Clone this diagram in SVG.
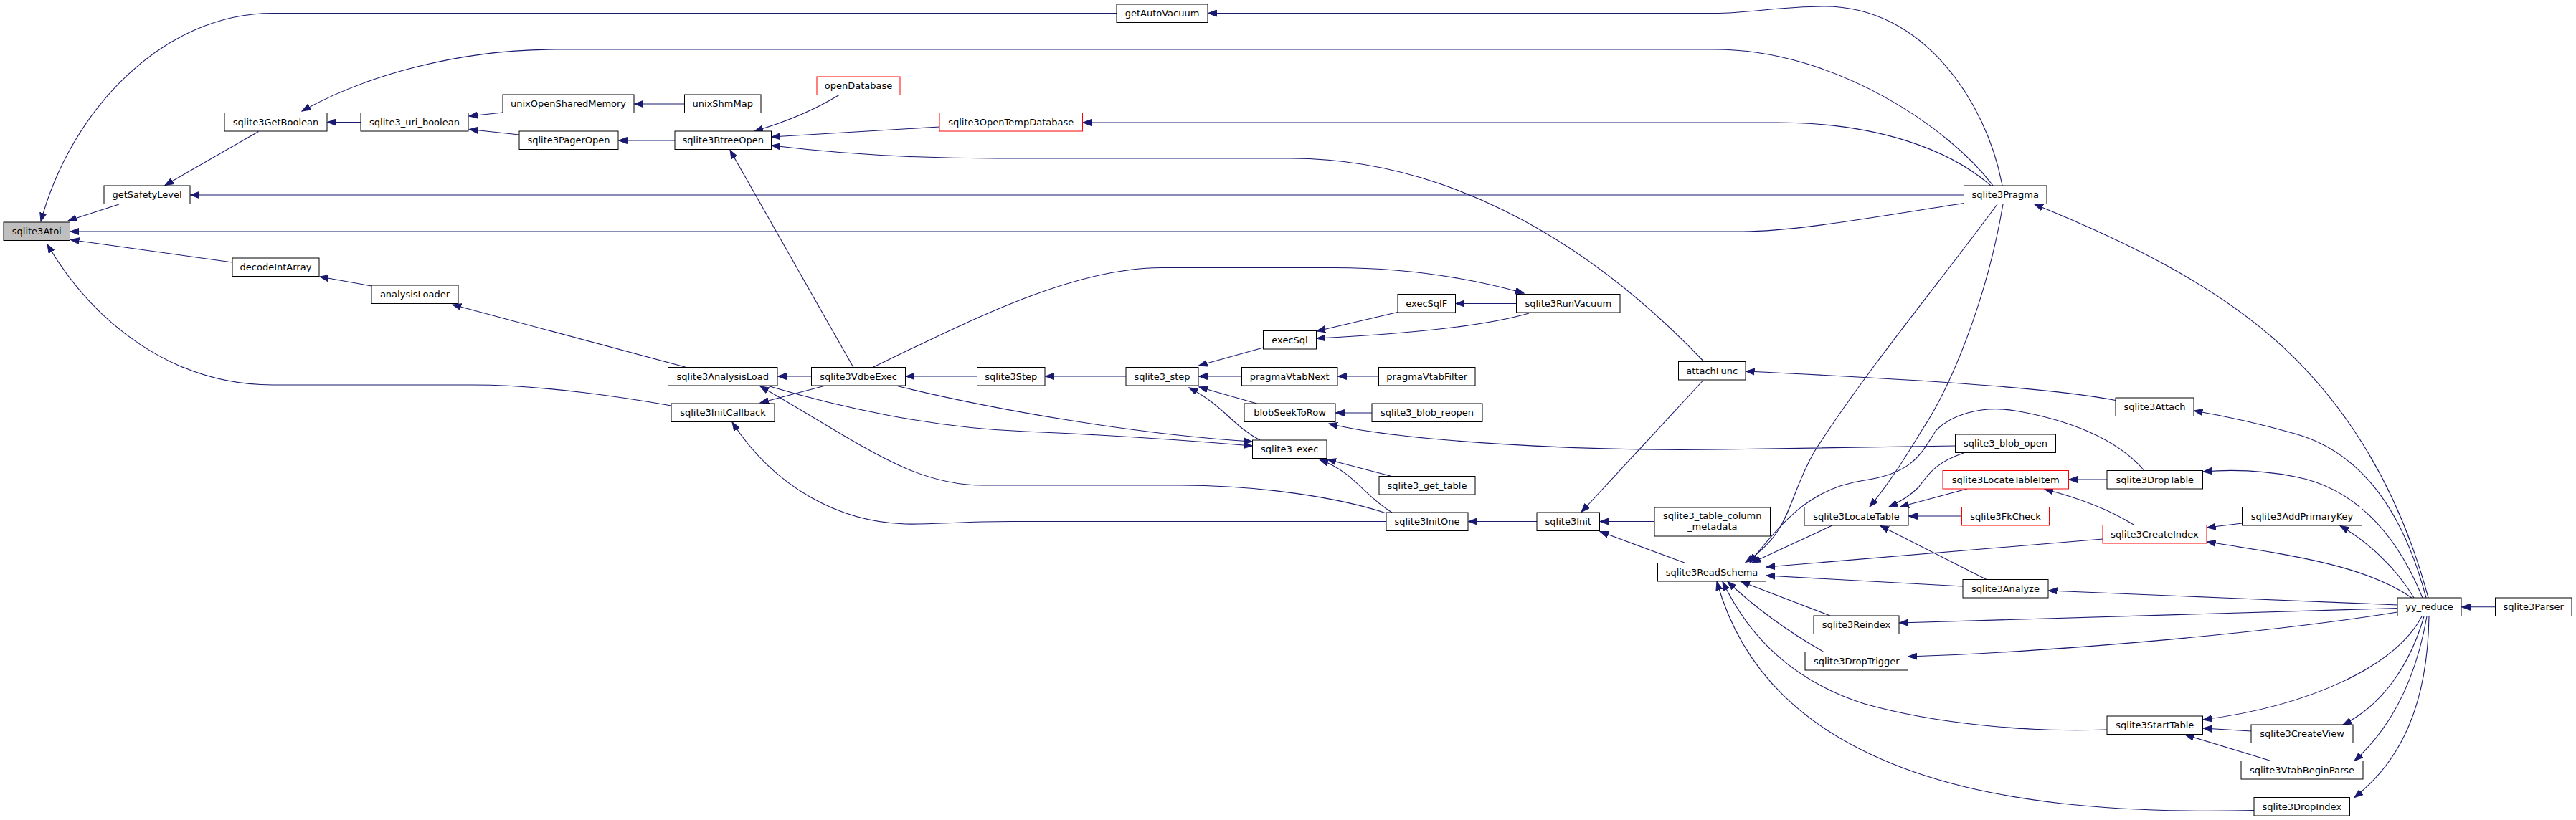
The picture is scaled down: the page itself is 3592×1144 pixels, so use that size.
<svg xmlns="http://www.w3.org/2000/svg" width="3592" height="1144" viewBox="0 0 3592 1144">
<style>
.n rect{fill:#fff;stroke:#000;stroke-width:1}
.n.r rect{stroke:#ff0000}
.n.g rect{fill:#bfbfbf}
text{font-family:"DejaVu Sans","Liberation Sans",sans-serif;font-size:13px;text-anchor:middle;fill:#000}
.e path{fill:none;stroke:#191970;stroke-width:1.1;marker-end:url(#a)}
</style>
<defs>
<marker id="a" markerUnits="userSpaceOnUse" markerWidth="13" markerHeight="10" refX="12" refY="5" orient="auto">
<path d="M0,0.5 L12,5 L0,9.5 z" fill="#191970" stroke="#191970" stroke-width="1"/>
</marker>
</defs>
<rect width="3592" height="1144" fill="#fff"/>
<g class="e" id="edges">
<path d="M1557,18.5 L380,18.5 C230,18.5 100,150 57,309"/>
<path d="M2792,259 C2770,140 2680,9 2545,9 C2480,9 2440,18.5 2391,18.5 L1684.5,18.5"/>
<path d="M166,285 L95,308"/>
<path d="M2738.5,283.5 C2600,305 2500,323 2430,323 L98,323"/>
<path d="M324,366 L98.5,334.5"/>
<path d="M936,566 C880,556 760,537 660,537 L380,537 C240,537 130,450 66,341"/>
<path d="M360.5,183.5 L230,258.5"/>
<path d="M2738.5,272 L265.5,272"/>
<path d="M503,170.5 L456.5,170.5"/>
<path d="M2779,259 C2720,180 2560,69 2391,69 L775,69 C640,69 510,105 421,155"/>
<path d="M701,157 L654,162"/>
<path d="M724,188 L654.5,180.5"/>
<path d="M954.5,145 L884.5,145"/>
<path d="M941,196 L862.5,196"/>
<path d="M518,399 L446,386"/>
<path d="M957,512.5 L631,425"/>
<path d="M1170,132.5 Q1120,163 1052,183"/>
<path d="M1310,177 L1076,191"/>
<path d="M2376,504.5 C2200,320 2000,221 1800,221 L1390,221 C1250,221 1150,212 1076,203"/>
<path d="M1190,512.5 L1018,209.5"/>
<path d="M2776,259 C2720,210 2620,171 2477,171 L1510,171"/>
<path d="M1217,512.5 C1367,440 1500,373.5 1620,373.5 L1860,373.5 C1960,373.5 2050,388 2125,409"/>
<path d="M1949,435.5 L1836,462"/>
<path d="M2114.5,423.5 L2030,423.5"/>
<path d="M2132,437 C2070,455 1960,466 1836,472"/>
<path d="M1761.5,485 L1671.5,510"/>
<path d="M1731.5,525 L1671.5,525"/>
<path d="M1570,525 L1457.5,525"/>
<path d="M1362.5,525 L1263,525"/>
<path d="M1131.5,525 L1084.5,525"/>
<path d="M1922.5,525 L1865.5,525"/>
<path d="M1752.5,563 L1672,540"/>
<path d="M1757,614 C1720,595 1705,565 1658,541"/>
<path d="M1913,576 L1862.5,576"/>
<path d="M2726.5,622 L2400,627 C2200,630 1950,615 1853,591"/>
<path d="M1149,538.5 L1060,562"/>
<path d="M1940.5,664.5 L1851,641"/>
<path d="M1941,715 C1900,690 1890,660 1840,641"/>
<path d="M1251,538.5 C1380,570 1580,606 1746,616"/>
<path d="M1071.5,538.5 C1170,568 1300,597 1430,602 C1550,607 1650,614 1746,622"/>
<path d="M1933,716 C1870,695 1760,677 1646,677 L1371,677 C1290,677 1230,640 1130,580 C1100,562 1080,550 1060,539"/>
<path d="M1933,727.5 L1410,727.5 C1340,727.5 1300,732 1262,731 C1170,728 1080,680 1021,589"/>
<path d="M2143,727.5 L2047.5,727.5"/>
<path d="M2307,727.5 L2231,727.5"/>
<path d="M2375,530.5 L2205,714.5"/>
<path d="M2350,785.5 L2231,741.5"/>
<path d="M2785,285 C2700,400 2600,520 2530,630 C2490,700 2500,740 2434,784.5"/>
<path d="M2793,285 C2770,420 2720,540 2680,600 C2650,650 2630,680 2607,707"/>
<path d="M2738,632 C2700,645 2690,660 2675,680 C2665,690 2650,700 2634,707"/>
<path d="M2743,682 L2650,707"/>
<path d="M2735.5,720 L2661.5,720"/>
<path d="M2555,733 L2443,785"/>
<path d="M2770,808.5 L2622,733.5"/>
<path d="M2932,752 L2463,791"/>
<path d="M2737,818 L2463,803"/>
<path d="M2990,656.5 C2950,610 2880,585 2810,573 C2760,565 2720,580 2700,600 C2680,630 2670,660 2600,670 C2530,680 2490,720 2440,785"/>
<path d="M2976,732.5 C2940,710 2900,695 2851,682.5"/>
<path d="M2938,669 L2885,669"/>
<path d="M3126.5,730 L3077.5,736"/>
<path d="M3363,834 C3300,790 3200,775 3077.5,756"/>
<path d="M3366,834 C3340,790 3300,755 3263,733.5"/>
<path d="M3378,834 C3340,740 3280,680 3200,665 C3150,655 3110,655 3072,658"/>
<path d="M3383,834 C3350,710 3290,630 3200,605 C3140,588 3100,580 3059.5,573"/>
<path d="M3386,834 C3350,700 3290,590 3200,500 C3100,400 2960,335 2837,285"/>
<path d="M3343,844 C3200,838 3000,830 2856.5,824"/>
<path d="M3343,848.5 L2648.5,869"/>
<path d="M3343,854 C3150,885 2850,910 2661,916"/>
<path d="M3377,860 C3340,930 3220,985 3072,1004"/>
<path d="M3380,860 C3360,930 3320,985 3267,1011"/>
<path d="M3384,860 C3370,940 3340,1010 3283,1061.5"/>
<path d="M3387,860 C3385,980 3350,1060 3283,1112.5"/>
<path d="M3139,1020 L3072,1016"/>
<path d="M3166.5,1061.5 L3047,1025"/>
<path d="M3479.5,846.8 L3432.5,846.8"/>
<path d="M2938,1018 C2830,1022 2700,1010 2600,982 C2500,950 2440,890 2402,811.5"/>
<path d="M3143,1130.5 C2950,1135 2780,1120 2650,1070 C2520,1020 2430,940 2394,811.5"/>
<path d="M2552,859 L2428,811.5"/>
<path d="M2543,909.5 C2500,885 2450,850 2409,811.5"/>
<path d="M2950,558.5 C2880,545 2750,533 2434.5,518"/>
</g>
<g id="sqlite3Atoi" class="n g"><rect x="5" y="310" width="92.5" height="25.5"/><text x="51.25" y="327.25">sqlite3Atoi</text></g>
<g id="getSafetyLevel" class="n"><rect x="145" y="259" width="120" height="25.5"/><text x="205" y="276.25">getSafetyLevel</text></g>
<g id="sqlite3GetBoolean" class="n"><rect x="313" y="157.5" width="143" height="25.5"/><text x="384.5" y="174.75">sqlite3GetBoolean</text></g>
<g id="sqlite3_uri_boolean" class="n"><rect x="503" y="157.5" width="150" height="25.5"/><text x="578" y="174.75">sqlite3_uri_boolean</text></g>
<g id="unixOpenSharedMemory" class="n"><rect x="701" y="132" width="183" height="25.5"/><text x="792.5" y="149.25">unixOpenSharedMemory</text></g>
<g id="sqlite3PagerOpen" class="n"><rect x="724" y="183" width="138" height="25.5"/><text x="793" y="200.25">sqlite3PagerOpen</text></g>
<g id="decodeIntArray" class="n"><rect x="324" y="360" width="121" height="25.5"/><text x="384.5" y="377.25">decodeIntArray</text></g>
<g id="analysisLoader" class="n"><rect x="518" y="398" width="121" height="25.5"/><text x="578.5" y="415.25">analysisLoader</text></g>
<g id="getAutoVacuum" class="n"><rect x="1557" y="6" width="127" height="25.5"/><text x="1620.5" y="23.25">getAutoVacuum</text></g>
<g id="openDatabase" class="n r"><rect x="1139" y="107" width="116" height="25.5"/><text x="1197" y="124.25">openDatabase</text></g>
<g id="unixShmMap" class="n"><rect x="954.5" y="132" width="106.5" height="25.5"/><text x="1007.75" y="149.25">unixShmMap</text></g>
<g id="sqlite3OpenTempDatabase" class="n r"><rect x="1310" y="157.5" width="199.5" height="25.5"/><text x="1409.75" y="174.75">sqlite3OpenTempDatabase</text></g>
<g id="sqlite3BtreeOpen" class="n"><rect x="941" y="183" width="134.5" height="25.5"/><text x="1008.25" y="200.25">sqlite3BtreeOpen</text></g>
<g id="sqlite3AnalysisLoad" class="n"><rect x="931.5" y="512.5" width="152.5" height="25.5"/><text x="1007.75" y="529.75">sqlite3AnalysisLoad</text></g>
<g id="sqlite3VdbeExec" class="n"><rect x="1131.5" y="512.5" width="131" height="25.5"/><text x="1197" y="529.75">sqlite3VdbeExec</text></g>
<g id="sqlite3Step" class="n"><rect x="1362.5" y="512.5" width="94.5" height="25.5"/><text x="1409.75" y="529.75">sqlite3Step</text></g>
<g id="sqlite3_step" class="n"><rect x="1570" y="512.5" width="101" height="25.5"/><text x="1620.5" y="529.75">sqlite3_step</text></g>
<g id="execSql" class="n"><rect x="1761.5" y="461.5" width="74" height="25.5"/><text x="1798.5" y="478.75">execSql</text></g>
<g id="pragmaVtabNext" class="n"><rect x="1731.5" y="512.5" width="133.5" height="25.5"/><text x="1798.25" y="529.75">pragmaVtabNext</text></g>
<g id="blobSeekToRow" class="n"><rect x="1735" y="563" width="127" height="25.5"/><text x="1798.5" y="580.25">blobSeekToRow</text></g>
<g id="sqlite3InitCallback" class="n"><rect x="936" y="563" width="144" height="25.5"/><text x="1008" y="580.25">sqlite3InitCallback</text></g>
<g id="execSqlF" class="n"><rect x="1949" y="410.5" width="80.5" height="25.5"/><text x="1989.25" y="427.75">execSqlF</text></g>
<g id="sqlite3RunVacuum" class="n"><rect x="2114.5" y="410.5" width="144.5" height="25.5"/><text x="2186.75" y="427.75">sqlite3RunVacuum</text></g>
<g id="pragmaVtabFilter" class="n"><rect x="1922.5" y="512.5" width="134.5" height="25.5"/><text x="1989.75" y="529.75">pragmaVtabFilter</text></g>
<g id="sqlite3_blob_reopen" class="n"><rect x="1913" y="563" width="154" height="25.5"/><text x="1990" y="580.25">sqlite3_blob_reopen</text></g>
<g id="attachFunc" class="n"><rect x="2340.5" y="504.5" width="93.5" height="25.5"/><text x="2387.25" y="521.75">attachFunc</text></g>
<g id="sqlite3Pragma" class="n"><rect x="2738.5" y="259" width="115.5" height="25.5"/><text x="2796.25" y="276.25">sqlite3Pragma</text></g>
<g id="sqlite3Attach" class="n"><rect x="2950" y="555" width="109" height="25.5"/><text x="3004.5" y="572.25">sqlite3Attach</text></g>
<g id="sqlite3_exec" class="n"><rect x="1746.5" y="614" width="103.5" height="25.5"/><text x="1798.25" y="631.25">sqlite3_exec</text></g>
<g id="sqlite3_get_table" class="n"><rect x="1923" y="664.5" width="134" height="25.5"/><text x="1990" y="681.75">sqlite3_get_table</text></g>
<g id="sqlite3InitOne" class="n"><rect x="1933" y="715" width="114" height="25.5"/><text x="1990" y="732.25">sqlite3InitOne</text></g>
<g id="sqlite3Init" class="n"><rect x="2143" y="715" width="87.5" height="25.5"/><text x="2186.75" y="732.25">sqlite3Init</text></g>
<g id="sqlite3_table_column_metadata" class="n"><rect x="2307" y="708" width="161.5" height="40"/><text x="2387.75" y="724">sqlite3_table_column</text><text x="2387.75" y="739">_metadata</text></g>
<g id="sqlite3ReadSchema" class="n"><rect x="2311.5" y="785.5" width="151" height="25.5"/><text x="2387" y="802.75">sqlite3ReadSchema</text></g>
<g id="sqlite3LocateTable" class="n"><rect x="2516" y="707.5" width="145" height="25.5"/><text x="2588.5" y="724.75">sqlite3LocateTable</text></g>
<g id="sqlite3Reindex" class="n"><rect x="2529" y="859" width="119" height="25.5"/><text x="2588.5" y="876.25">sqlite3Reindex</text></g>
<g id="sqlite3DropTrigger" class="n"><rect x="2517" y="909.5" width="143.5" height="25.5"/><text x="2588.75" y="926.75">sqlite3DropTrigger</text></g>
<g id="sqlite3_blob_open" class="n"><rect x="2726.5" y="606" width="140" height="25.5"/><text x="2796.5" y="623.25">sqlite3_blob_open</text></g>
<g id="sqlite3LocateTableItem" class="n r"><rect x="2709" y="656.5" width="175.5" height="25.5"/><text x="2796.75" y="673.75">sqlite3LocateTableItem</text></g>
<g id="sqlite3DropTable" class="n"><rect x="2938" y="656.5" width="133.5" height="25.5"/><text x="3004.75" y="673.75">sqlite3DropTable</text></g>
<g id="sqlite3FkCheck" class="n r"><rect x="2735.5" y="707.5" width="122" height="25.5"/><text x="2796.5" y="724.75">sqlite3FkCheck</text></g>
<g id="sqlite3AddPrimaryKey" class="n"><rect x="3126.5" y="707.5" width="167" height="25.5"/><text x="3210" y="724.75">sqlite3AddPrimaryKey</text></g>
<g id="sqlite3CreateIndex" class="n r"><rect x="2932" y="732.5" width="145" height="25.5"/><text x="3004.5" y="749.75">sqlite3CreateIndex</text></g>
<g id="sqlite3Analyze" class="n"><rect x="2737" y="808.5" width="119" height="25.5"/><text x="2796.5" y="825.75">sqlite3Analyze</text></g>
<g id="yy_reduce" class="n"><rect x="3343" y="834" width="89" height="25.5"/><text x="3387.5" y="851.25">yy_reduce</text></g>
<g id="sqlite3Parser" class="n"><rect x="3479.5" y="834" width="106.5" height="25.5"/><text x="3532.75" y="851.25">sqlite3Parser</text></g>
<g id="sqlite3StartTable" class="n"><rect x="2938" y="999" width="133.5" height="25.5"/><text x="3004.75" y="1016.25">sqlite3StartTable</text></g>
<g id="sqlite3CreateView" class="n"><rect x="3139" y="1011" width="142" height="25.5"/><text x="3210" y="1028.25">sqlite3CreateView</text></g>
<g id="sqlite3VtabBeginParse" class="n"><rect x="3125" y="1061.5" width="170" height="25.5"/><text x="3210" y="1078.75">sqlite3VtabBeginParse</text></g>
<g id="sqlite3DropIndex" class="n"><rect x="3143" y="1112.5" width="133.5" height="25.5"/><text x="3209.75" y="1129.75">sqlite3DropIndex</text></g>
</svg>
